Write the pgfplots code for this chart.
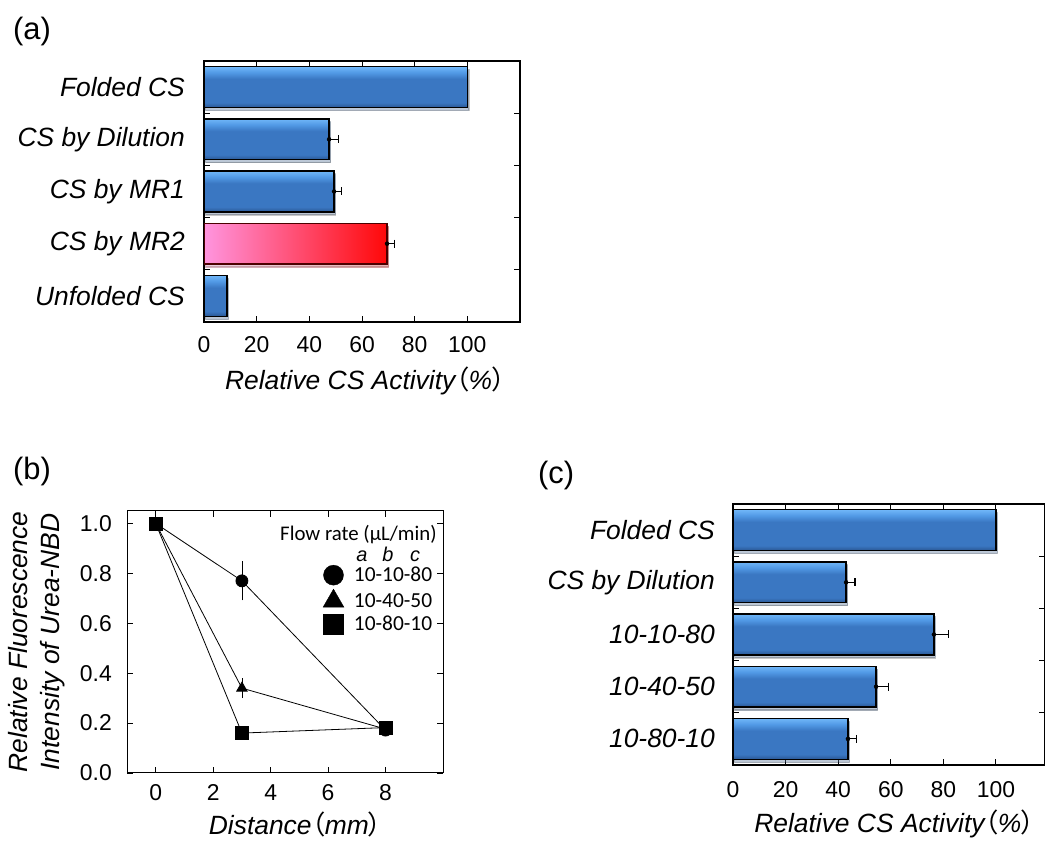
\documentclass[border=0pt]{standalone}
\usepackage{fontspec}
\setmainfont{Liberation Sans}
\newfontfamily\legfont{Carlito}
\newfontfamily\cjk[RawFeature=+palt]{Noto Sans CJK JP}
\usepackage{pgfplots}
\pgfplotsset{compat=1.18}
\usetikzlibrary{shadows}

\definecolor{bD}{HTML}{2A5794}
\definecolor{bM}{HTML}{3A77C2}
\definecolor{bL}{HTML}{529AE6}
\definecolor{bT}{HTML}{70B6F8}
\definecolor{pk}{HTML}{FF95DF}
\definecolor{rd}{HTML}{FF0808}
\pgfdeclareverticalshading{barblue}{100bp}{color(0bp)=(bD); color(25bp)=(bD); color(31bp)=(bM); color(60bp)=(bM); color(68bp)=(bL); color(75bp)=(bT); color(100bp)=(bT)}
\pgfdeclarehorizontalshading{barred}{100bp}{color(0bp)=(pk); color(25bp)=(pk); color(75bp)=(rd); color(100bp)=(rd)}

\newcommand\lab{\fontsize{26.5}{32}\selectfont}
\newcommand\tck{\fontsize{23}{27}\selectfont}

\pgfplotsset{
  /pgf/number format/assume math mode=true,
  barax/.style={
    scale only axis, width=316bp, height=261bp,
    xmin=0, xmax=120, ymin=-0.5, ymax=4.5,
    xtick={0,20,...,100},
    ytick={0.5,1.5,2.5,3.5}, yticklabels={,,,},
    tick align=inside, major tick length=6bp,
    tick style={black, line width=1bp},
    axis line style={black, line width=1.5bp},
    xticklabel style={font=\tck, inner sep=0pt, anchor=north},
    yticklabel style={font=\lab\itshape, inner sep=0pt, anchor=east, xshift=-19bp},
    extra y ticks={0,1,2,3,4},
    extra y tick style={major tick length=0pt},
    xlabel style={font=\lab\itshape, anchor=base, inner sep=0pt},
  },
  bluebar/.style={xbar, bar width=0.78, bar shift=0pt, draw=black, line width=1.4bp, shade, shading=barblue,
    drop shadow={shadow xshift=1.5bp, shadow yshift=-3bp, opacity=0.22}},
  redbar/.style={xbar, bar width=0.78, bar shift=0pt, draw=black!70!red, line width=1.4bp, shade, shading=barred,
    drop shadow={shadow xshift=1.5bp, shadow yshift=-3bp, opacity=0.22}},
  errx/.style={only marks, mark=none, forget plot,
    error bars/.cd, x dir=plus, x explicit,
    error bar style={black, line width=1.2bp},
    error mark options={black, line width=1.2bp, mark size=4bp, rotate=90}},
}

\begin{document}
\begin{tikzpicture}[x=1bp,y=1bp]
\useasboundingbox (0,0) rectangle (1045,841);

% panel labels
\node[anchor=base west, inner sep=0pt, font=\fontsize{31}{36}\selectfont] at (13,801) {(a)};
\node[anchor=base west, inner sep=0pt, font=\fontsize{31}{36}\selectfont] at (13,361) {(b)};
\node[anchor=base west, inner sep=0pt, font=\fontsize{31}{36}\selectfont] at (538,357) {(c)};

% ---------------- (a)
\begin{axis}[barax, at={(204bp,519bp)}, anchor=south west,
  xticklabel style={yshift=-14.7bp},
  extra y tick labels={Unfolded CS, CS by MR2, CS by MR1, CS by Dilution, Folded CS},
  xlabel={Relative CS Activity{\cjk （}\%{\cjk ）}},
  xlabel style={at={(axis description cs:0.51,0)}, yshift=-68bp}]
\addplot[bluebar] coordinates {(100,4)};
\addplot[bluebar] coordinates {(47.5,3)};
\addplot[bluebar] coordinates {(49.4,2)};
\addplot[redbar] coordinates {(69.5,1)};
\addplot[bluebar] coordinates {(8.7,0)};
\addplot[errx] coordinates {(47.5,3) +- (3.5,0) (49.4,2) +- (2.8,0) (69.5,1) +- (2.7,0)};
\end{axis}

% ---------------- (b)
\begin{axis}[at={(127bp,68bp)}, anchor=south west, scale only axis, width=316bp, height=262bp,
  xmin=-1, xmax=10, ymin=0, ymax=1.05,
  xtick={0,2,4,6,8}, ytick={0,0.2,0.4,0.6,0.8,1.0},
  tick align=inside, major tick length=6bp,
  tick style={black, line width=0.8bp},
  axis line style={black, line width=1bp},
  xticklabel style={font=\tck, inner sep=0pt, anchor=north, yshift=-11.7bp},
  yticklabel style={font=\tck, inner sep=0pt, anchor=east, xshift=-15bp,
    /pgf/number format/.cd, fixed, fixed zerofill, precision=1},
  xlabel={Distance{\cjk （}mm{\cjk ）}},
  xlabel style={font=\lab\itshape, at={(axis description cs:0.533,0)}, anchor=base, inner sep=0pt, yshift=-62bp},
  ylabel={Relative Fluorescence\\Intensity of Urea-NBD},
  ylabel style={font=\lab\itshape, align=center, at={(axis description cs:-0.1946,0.5)}, anchor=south, inner sep=0pt},
  legend style={at={(axis description cs:0.62,0.794)}, anchor=north west, draw=none, fill=none,
    inner sep=0pt, row sep=4bp, column sep=10bp, font=\legfont\fontsize{21.5}{24}\selectfont,
    nodes={inner sep=0pt, text height=15bp, text depth=3bp}},
  legend cell align=left,
  legend image code/.code={\draw[#1] plot coordinates {(0bp,0bp)};},
]
\addplot[black, line width=0.8bp, mark=*, mark size=6bp, forget plot,
  error bars/.cd, y dir=both, y explicit, error bar style={black, line width=0.8bp},
  error mark options={black, line width=0.8bp, mark size=3bp}]
  coordinates {(0,1.0) (3,0.77) +- (0,0.066) (8,0.172)};
\addplot[black, line width=0.8bp, mark=triangle*, mark size=6bp, forget plot,
  error bars/.cd, y dir=both, y explicit, error bar style={black, line width=0.8bp},
  error mark options={black, line width=0.8bp, mark size=3bp}]
  coordinates {(0,1.0) (3,0.34) +- (0,0.028) (8,0.176)};
\addplot[black, line width=0.8bp, mark=square*, mark size=6.5bp, forget plot]
  coordinates {(0,1.0) (3,0.16) (8,0.182)};
\addlegendimage{only marks, black, mark=*, mark size=10bp}
\addlegendentry{10-10-80}
\addlegendimage{only marks, black, mark=triangle*, mark size=12bp}
\addlegendentry{10-40-50}
\addlegendimage{only marks, black, mark=square*, mark size=10bp}
\addlegendentry{10-80-10}
\end{axis}
\node[anchor=base west, inner sep=0pt, font=\legfont\fontsize{20.9}{24}\selectfont] at (280,300) {Flow rate (μL/min)};
\node[anchor=base, inner sep=0pt, font=\fontsize{20}{24}\selectfont\itshape] at (362,279) {a};
\node[anchor=base, inner sep=0pt, font=\fontsize{20}{24}\selectfont\itshape] at (388,279) {b};
\node[anchor=base, inner sep=0pt, font=\fontsize{20}{24}\selectfont\itshape] at (415,279) {c};

% ---------------- (c)
\begin{axis}[barax, at={(733bp,76bp)}, anchor=south west, width=311.6bp, xmax=118.5,
  xticklabel style={yshift=-16.7bp},
  extra y tick labels={10-80-10, 10-40-50, 10-10-80, CS by Dilution, Folded CS},
  yticklabel style={xshift=1bp},
  xlabel={Relative CS Activity{\cjk （}\%{\cjk ）}},
  xlabel style={at={(axis description cs:0.518,0)}, yshift=-68bp}]
\addplot[bluebar] coordinates {(100,4)};
\addplot[bluebar] coordinates {(43,3)};
\addplot[bluebar] coordinates {(76.4,2)};
\addplot[bluebar] coordinates {(54.4,1)};
\addplot[bluebar] coordinates {(43.7,0)};
\addplot[errx] coordinates {(43,3) +- (3.4,0) (76.4,2) +- (5.6,0) (54.4,1) +- (4.6,0) (43.7,0) +- (3.3,0)};
\end{axis}
\end{tikzpicture}
\end{document}
